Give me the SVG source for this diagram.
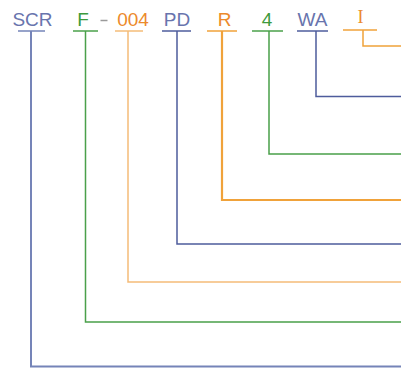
<svg xmlns="http://www.w3.org/2000/svg" width="401" height="368" viewBox="0 0 401 368">
<style>
text{font-family:"Liberation Sans",Arial,sans-serif;font-size:19px;text-anchor:middle}
.blue{fill:#6874ad}.green{fill:#3d9a3d}.orange{fill:#ec8a2c}
line,polyline{fill:none;stroke-width:1.5}
.sb{stroke:#7584b8}.sd{stroke:#4e5c9c}.sg{stroke:#4aa04a}.so{stroke:#f0a23a}.sl{stroke:#f5bc78}
</style>
<rect width="401" height="368" fill="#ffffff"/>
<g id="SCR"><text x="32.5" y="25.5" class="blue">SCR</text><line x1="18" y1="31" x2="45" y2="31" class="sb"/></g>
<g id="F"><text x="83" y="25.5" class="green">F</text><line x1="73" y1="31" x2="98" y2="31" class="sg"/></g>
<g id="dash"><line x1="100.5" y1="20.5" x2="107.5" y2="20.5" stroke="#9a9a9a" stroke-width="1.3"/></g>
<g id="n004"><text x="133" y="25.5" class="orange">004</text><line x1="115" y1="31" x2="143" y2="31" class="sl"/></g>
<g id="PD"><text x="177" y="25.5" class="blue">PD</text><line x1="162" y1="31" x2="191" y2="31" class="sd"/></g>
<g id="R"><text x="224.5" y="25.5" class="orange">R</text><line x1="207" y1="31" x2="237" y2="31" class="so"/></g>
<g id="n4"><text x="267" y="25.5" class="green">4</text><line x1="252" y1="31" x2="283" y2="31" class="sg"/></g>
<g id="WA"><text x="312.5" y="25.5" class="blue">WA</text><line x1="297" y1="31" x2="328" y2="31" class="sd"/></g>
<g id="I"><text x="360.5" y="22.5" class="orange" style="font-family:'Liberation Serif','Times New Roman',serif;font-size:18px">I</text><line x1="343" y1="30" x2="377" y2="30" class="so"/></g>
<g id="connectors">
<polyline points="363,30 363,46 401,46" class="so"/>
<polyline points="316,31 316,96.5 401,96.5" class="sd"/>
<polyline points="269,31 269,154 401,154" class="sg"/>
<polyline points="222,31 222,200 401,200" class="so" style="stroke-width:2.2"/>
<polyline points="177,31 177,244 401,244" class="sd"/>
<polyline points="128,31 128,282 401,282" class="sl"/>
<polyline points="85.5,31 85.5,322 401,322" class="sg"/>
<polyline points="31,31 31,366.5 401,366.5" class="sb" style="stroke-width:2"/>
</g>
</svg>
